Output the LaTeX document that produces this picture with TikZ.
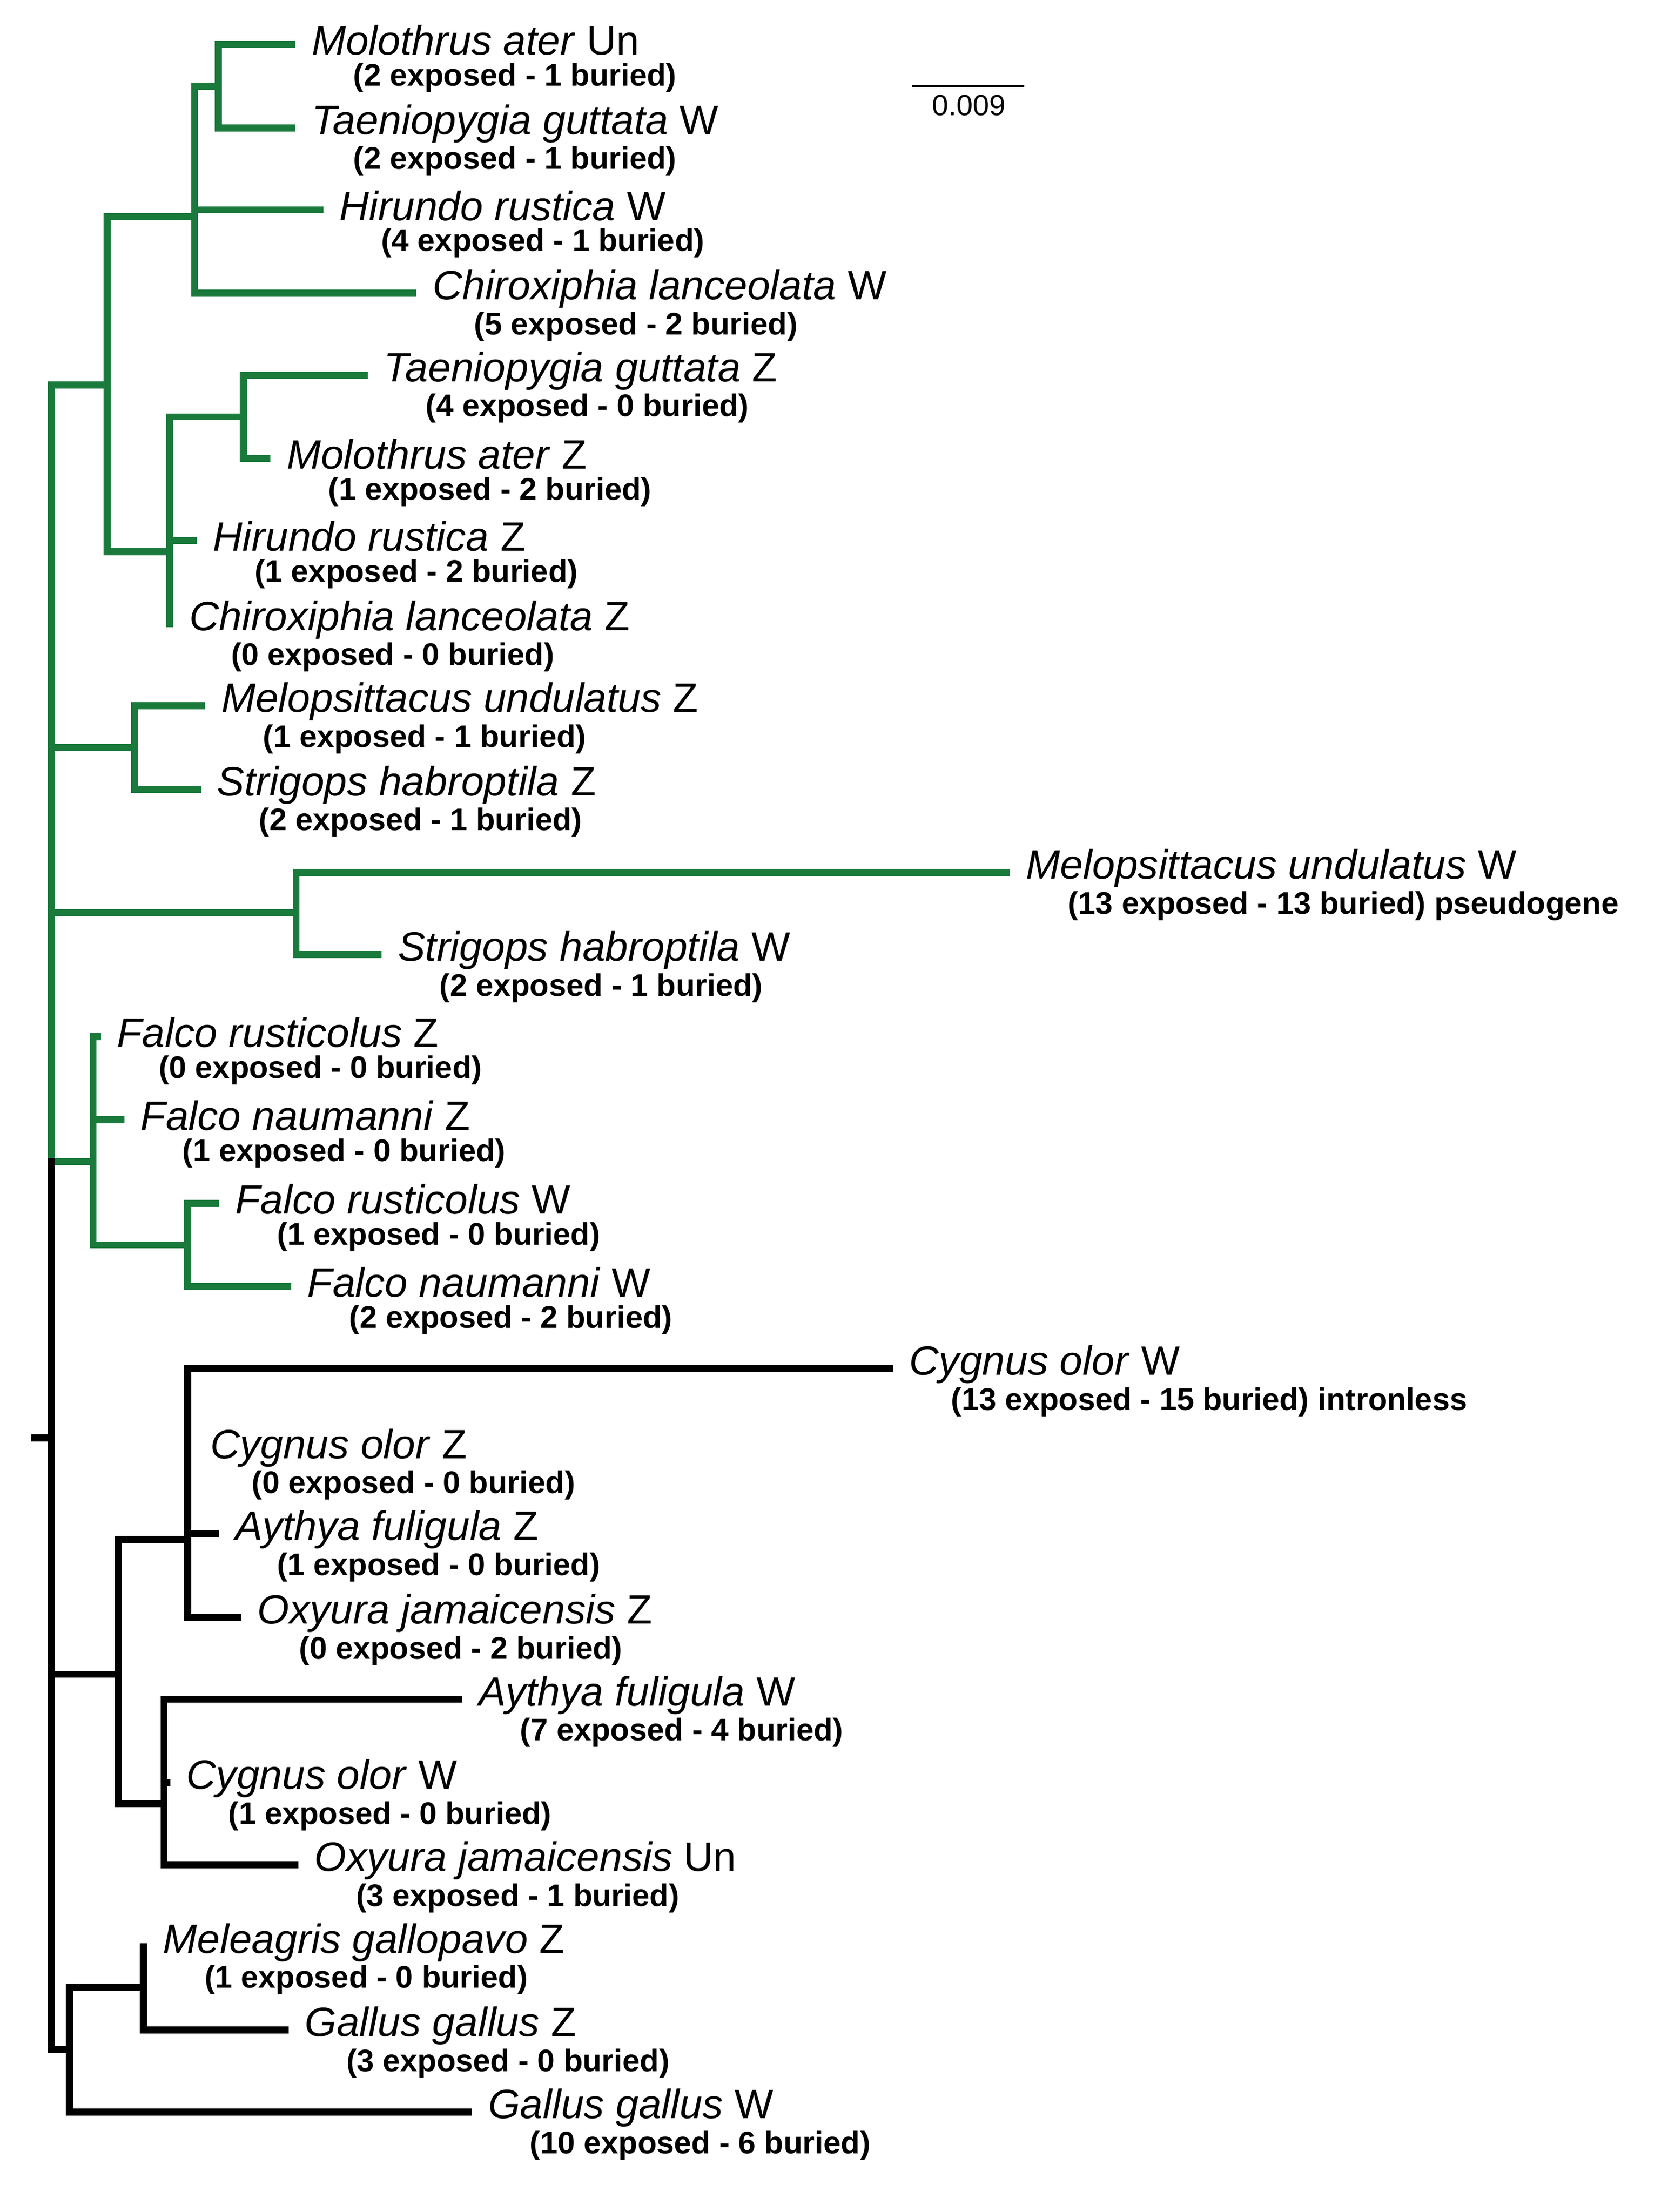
\documentclass[tikz,border=0pt]{standalone}
\usepackage{fontspec}
\setmainfont{Liberation Sans}
\definecolor{tg}{HTML}{1A7A3C}
\begin{document}
\begin{tikzpicture}[x=0.25mm,y=-0.25mm,
  br/.style={line width=3.6pt,line cap=rect,line join=miter},
  sp/.style={anchor=west,inner sep=0,font=\fontsize{21}{24}\selectfont},
  ct/.style={anchor=west,inner sep=0,font=\fontsize{16}{18}\selectfont\bfseries}]
\useasboundingbox (0,0) rectangle (1200,1592);
\newcommand\leaf[6]{%
  \coordinate (#1) at (#2,#3);
  \node[sp] (#1l) at (#2+14,#3-3) {\textit{#4} #5};
  \node[ct] (#1c) at (#2+44,#3+24) {#6};}
\leaf{a1}{210}{32}{Molothrus ater}{Un}{(2 exposed - 1 buried)}
\leaf{a2}{210}{92}{Taeniopygia guttata}{W}{(2 exposed - 1 buried)}
\leaf{a3}{230}{151}{Hirundo rustica}{W}{(4 exposed - 1 buried)}
\leaf{a4}{297}{211}{Chiroxiphia lanceolata}{W}{(5 exposed - 2 buried)}
\leaf{b1}{262}{270}{Taeniopygia guttata}{Z}{(4 exposed - 0 buried)}
\leaf{b2}{192}{330}{Molothrus ater}{Z}{(1 exposed - 2 buried)}
\leaf{b3}{139}{389}{Hirundo rustica}{Z}{(1 exposed - 2 buried)}
\leaf{b4}{122}{449}{Chiroxiphia lanceolata}{Z}{(0 exposed - 0 buried)}
\leaf{c1}{145}{508}{Melopsittacus undulatus}{Z}{(1 exposed - 1 buried)}
\leaf{c2}{142}{568}{Strigops habroptila}{Z}{(2 exposed - 1 buried)}
\leaf{d1}{724}{628}{Melopsittacus undulatus}{W}{(13 exposed - 13 buried) pseudogene}
\leaf{d2}{272}{687}{Strigops habroptila}{W}{(2 exposed - 1 buried)}
\leaf{e1}{70}{746}{Falco rusticolus}{Z}{(0 exposed - 0 buried)}
\leaf{e2}{87}{806}{Falco naumanni}{Z}{(1 exposed - 0 buried)}
\leaf{e3}{155}{866}{Falco rusticolus}{W}{(1 exposed - 0 buried)}
\leaf{e4}{207}{926}{Falco naumanni}{W}{(2 exposed - 2 buried)}
\leaf{f1}{640}{985}{Cygnus olor}{W}{(13 exposed - 15 buried) intronless}
\leaf{f2}{137}{1045}{Cygnus olor}{Z}{(0 exposed - 0 buried)}
\leaf{f3}{155}{1104}{Aythya fuligula}{Z}{(1 exposed - 0 buried)}
\leaf{f4}{171}{1164}{Oxyura jamaicensis}{Z}{(0 exposed - 2 buried)}
\leaf{g1}{330}{1223}{Aythya fuligula}{W}{(7 exposed - 4 buried)}
\leaf{g2}{120}{1283}{Cygnus olor}{W}{(1 exposed - 0 buried)}
\leaf{g3}{212}{1342}{Oxyura jamaicensis}{Un}{(3 exposed - 1 buried)}
\leaf{h1}{103}{1401}{Meleagris gallopavo}{Z}{(1 exposed - 0 buried)}
\leaf{h2}{205}{1461}{Gallus gallus}{Z}{(3 exposed - 0 buried)}
\leaf{h3}{337}{1520}{Gallus gallus}{W}{(10 exposed - 6 buried)}
\begin{scope}[br,draw=tg]
\draw (a1) -| (157,62) |- (a2);
\draw (157,62) -- (140,62) -- (140,211) -- (a4);
\draw (140,151) -- (a3);
\draw (b1) -| (175,300) |- (b2);
\draw (175,300) -- (122,300) -- (b4);
\draw (122,389) -- (b3);
\draw (140,156) -- (77,156) -- (77,397) -- (122,397);
\draw (c1) -| (97,538) |- (c2);
\draw (d1) -| (213,657) |- (d2);
\draw (e3) -| (135,896) |- (e4);
\draw (e1) -| (67,896) -- (135,896);
\draw (e2) -- (67,806);
\draw (77,277) -- (37,277) -- (37,836);
\draw (97,538) -- (37,538);
\draw (213,657) -- (37,657);
\draw (67,836) -- (37,836);
\end{scope}
\begin{scope}[br,draw=black]
\draw (37,836) -- (37,1475);
\draw (25,1035) -- (37,1035);
\draw (f1) -| (135,1164) -- (f4);
\draw (135,1104) -- (f3);
\draw (g1) -| (118,1342) -- (g3);
\draw (118,1283) -- (g2);
\draw (135,1108) -- (85,1108) -- (85,1298) -- (118,1298);
\draw (85,1205) -- (37,1205);
\draw (h1) -- (103,1461) -- (h2);
\draw (103,1430) -- (50,1430) -- (50,1520) -- (h3);
\draw (50,1475) -- (37,1475);
\end{scope}
\coordinate (s1) at (656,62); \coordinate (s2) at (737,62);
\draw[line width=1pt] (s1) -- (s2);
\node[font=\fontsize{15}{17}\selectfont,anchor=north,inner sep=0] (sl) at (697,68) {0.009};
\end{tikzpicture}
\end{document}
